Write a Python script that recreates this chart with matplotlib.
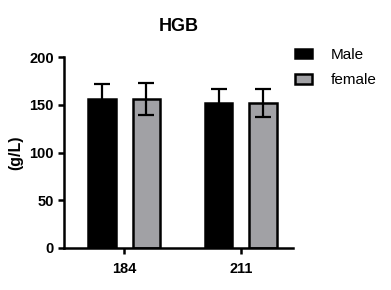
import numpy as np
import matplotlib.pyplot as plt

plt.rcParams['font.family'] = ['Liberation Sans', 'DejaVu Sans']

# Data
groups = ['184', '211']
male_mean = [156, 152]
male_sd = [16, 15]
female_mean = [156, 152]
female_sd = [17, 15]

x = np.arange(len(groups))
width = 0.235
offset = 0.19

fig = plt.figure(figsize=(3.91, 2.90), dpi=100)
ax = fig.add_axes([0.164, 0.145, 0.585, 0.658])

err_kw = dict(elinewidth=1.6, capsize=6, capthick=1.6, ecolor='black')
ax.bar(x - offset, male_mean, width, yerr=male_sd, color='black', edgecolor='black',
       linewidth=1.8, label='Male', error_kw=err_kw)
ax.bar(x + offset, female_mean, width, yerr=female_sd, color='#a1a1a5', edgecolor='black',
       linewidth=1.8, label='female', error_kw=err_kw)

ax.set_xlim(-0.513, 1.444)
ax.set_ylim(0, 200)
ax.set_yticks([0, 50, 100, 150, 200])
ax.set_xticks(x)
ax.set_xticklabels(groups)

for side in ['top', 'right']:
    ax.spines[side].set_visible(False)
for side in ['left', 'bottom']:
    ax.spines[side].set_linewidth(1.8)
ax.tick_params(width=1.8, length=4, labelsize=10.5)
ax.tick_params(axis='x', pad=6)
for lbl in ax.get_xticklabels() + ax.get_yticklabels():
    lbl.set_fontweight('bold')

ax.set_ylabel('(g/L)', fontsize=11.5, fontweight='bold', labelpad=4)
ax.set_title('HGB', fontsize=13, fontweight='bold', pad=19)

ax.legend(loc='upper left', bbox_to_anchor=(0.95, 1.12), frameon=False, fontsize=11,
          handlelength=1.1, handleheight=0.6, handletextpad=1.2, labelspacing=0.75)

fig.savefig('out.png', dpi=100)
